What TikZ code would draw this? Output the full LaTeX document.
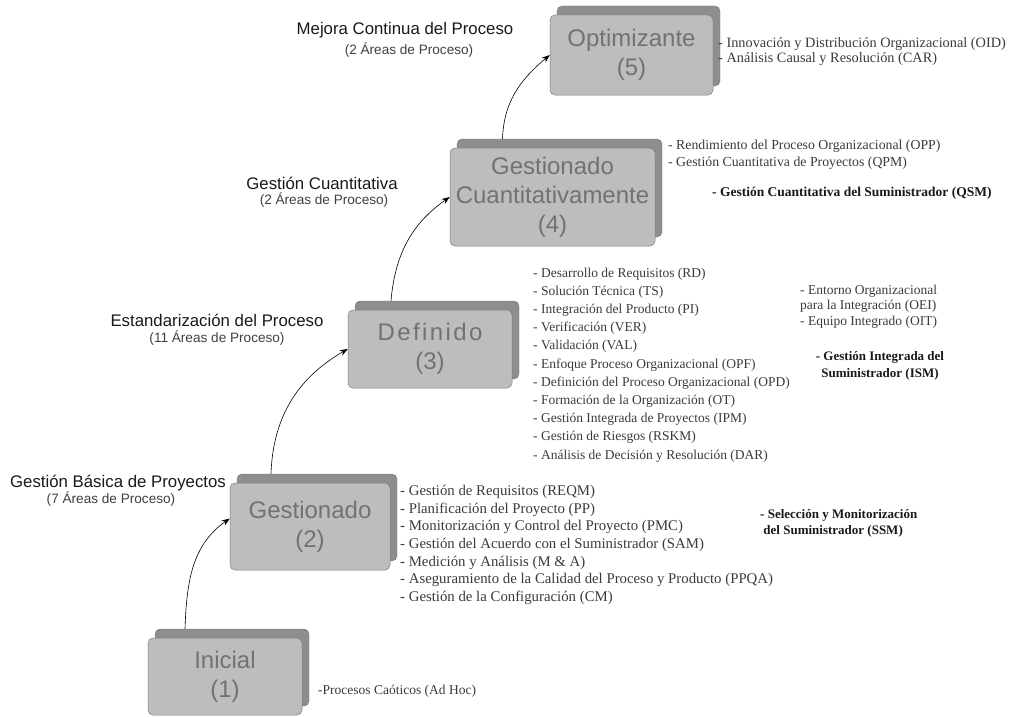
\documentclass[tikz,border=0pt]{standalone}
\usepackage{fontspec}
\setmainfont{Liberation Serif}
\setsansfont{Liberation Sans}
\usepackage{tikz}
\usetikzlibrary{arrows.meta, calc, positioning, shadows}
\definecolor{boxface}{HTML}{BDBDBD}
\definecolor{boxedge}{HTML}{8E8E8E}
\definecolor{boxline}{HTML}{7A7A7A}
\definecolor{boxtext}{HTML}{727272}
\definecolor{listtext}{HTML}{3A3A3A}
\begin{document}
\begin{tikzpicture}[x=1pt, y=-1pt,
  level/.style={rectangle, rounded corners=5pt, fill=boxface, draw=boxline, line width=0.5pt,
    text=boxtext, font=\sffamily\fontsize{24}{29}\selectfont, align=center, inner sep=0pt,
    general shadow={shadow xshift=7pt, shadow yshift=9pt, fill=boxedge, draw=boxline, line width=0.4pt}},
  stage/.style={font=\sffamily\fontsize{16.8}{19}\selectfont, text=black!90},
  areas/.style={font=\sffamily\fontsize{13.6}{15}\selectfont, text=black!75},
  items/.style={anchor=north west, align=left, inner sep=0pt, text=listtext},
  extra/.style={inner sep=0pt, text=black!90, font=\bfseries\fontsize{13}{16.5}\selectfont},
  climb/.style={-{Stealth[length=8pt,width=6pt]}, line width=0.6pt}]
\useasboundingbox (0,0) rectangle (1020,717);
\node[level, minimum width=163pt, minimum height=80pt] (opt) at (631.5,55) {Optimizante\\(5)};
\node[level, minimum width=205pt, minimum height=98pt] (cuant) at (552.5,197) {Gestionado\\Cuantitativamente\\(4)};
\node[level, minimum width=164pt, minimum height=78pt] (def) at (430,349) {\addfontfeature{LetterSpace=10}Definido\\(3)};
\node[level, minimum width=160pt, minimum height=87pt] (gest) at (310,526.5) {Gestionado\\(2)};
\node[level, minimum width=154pt, minimum height=77pt] (ini) at (225,676.5) {Inicial\\(1)};
\draw[climb] ([xshift=-40pt,yshift=9pt]ini.north) to[out=88, in=215] ([yshift=8pt]gest.west);
\draw[climb] ([xshift=-39pt,yshift=9pt]gest.north) to[out=88, in=210] (def.west);
\draw[climb] ([xshift=-39pt,yshift=9pt]def.north) to[out=85, in=215] (cuant.west);
\draw[climb] ([xshift=-50pt,yshift=9pt]cuant.north) to[out=88, in=220] (opt.west);
\node[stage] (t5) at (405,30) {Mejora Continua del Proceso};
\node[areas] (a5) at (409,50) {(2 Áreas de Proceso)};
\node[stage] (t4) at (322,183) {Gestión Cuantitativa};
\node[areas] (a4) at (324,200) {(2 Áreas de Proceso)};
\node[stage] (t3) at (217,320) {Estandarización del Proceso};
\node[areas] (a3) at (217,338) {(11 Áreas de Proceso)};
\node[stage] (t2) at (118,483) {Gestión Básica de Proyectos};
\node[areas] (a2) at (111,499) {(7 Áreas de Proceso)};
\node[items, font=\fontsize{14.3}{15.5}\selectfont] (optlist) at (718,37) {- Innovación y Distribución Organizacional (OID)\\- Análisis Causal y Resolución (CAR)};
\node[items, font=\fontsize{13.8}{17}\selectfont] (cuantlist) at (668,140) {- Rendimiento del Proceso Organizacional (OPP)\\- Gestión Cuantitativa de Proyectos (QPM)};
\node[extra, anchor=west, font=\bfseries\fontsize{13.5}{16.5}\selectfont] (qsm) at (712,193) {- Gestión Cuantitativa del Suministrador (QSM)};
\node[items, font=\fontsize{13.5}{18.2}\selectfont] (deflist) at (533,267.5) {- Desarrollo de Requisitos (RD)\\- Solución Técnica (TS)\\- Integración del Producto (PI)\\- Verificación (VER)\\- Validación (VAL)\\- Enfoque Proceso Organizacional (OPF)\\- Definición del Proceso Organizacional (OPD)\\- Formación de la Organización (OT)\\- Gestión Integrada de Proyectos (IPM)\\- Gestión de Riesgos (RSKM)\\- Análisis de Decisión y Resolución (DAR)};
\node[items, font=\fontsize{13.5}{15.5}\selectfont] (oei) at (800,284.5) {- Entorno Organizacional\\para la Integración (OEI)\\- Equipo Integrado (OIT)};
\node[extra, align=center] (ism) at (880,366) {- Gestión Integrada del\\Suministrador (ISM)};
\node[items, font=\fontsize{14.8}{17.7}\selectfont] (gestlist) at (400,485) {- Gestión de Requisitos (REQM)\\- Planificación del Proyecto (PP)\\- Monitorización y Control del Proyecto (PMC)\\- Gestión del Acuerdo con el Suministrador (SAM)\\- Medición y Análisis (M \& A)\\- Aseguramiento de la Calidad del Proceso y Producto (PPQA)\\- Gestión de la Configuración (CM)};
\node[extra, align=left, anchor=north west] (ssm) at (760,509) {- Selección y Monitorización\\\ del Suministrador (SSM)};
\node[items, font=\fontsize{13.5}{16}\selectfont] (inilist) at (318,684.5) {-Procesos Caóticos (Ad Hoc)};
\end{tikzpicture}
\end{document}
